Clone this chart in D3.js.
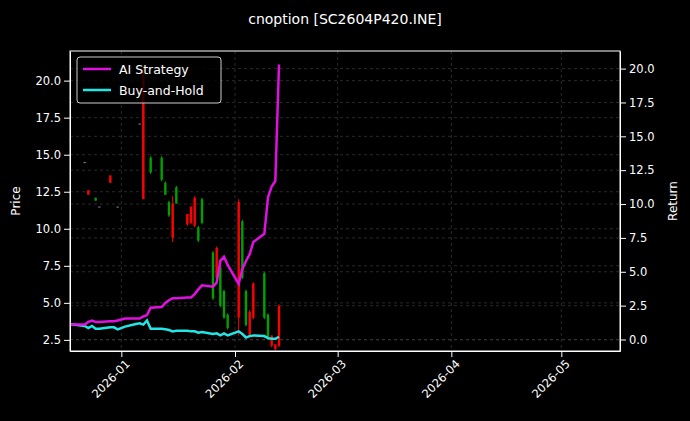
<!DOCTYPE html>
<html><head><meta charset="utf-8">
<script src="https://cdn.jsdelivr.net/npm/d3@7"></script>
<style>body{margin:0;background:#000}text{font-family:"DejaVu Sans",sans-serif}</style>
</head><body><div id="chart"></div>
<script>
const dates = ['2025-12-18','2025-12-19','2025-12-22','2025-12-23','2025-12-24','2025-12-25','2025-12-26','2025-12-29','2025-12-30','2025-12-31',
  '2026-01-02','2026-01-05','2026-01-06','2026-01-07','2026-01-08','2026-01-09','2026-01-12','2026-01-13','2026-01-14','2026-01-15','2026-01-16',
  '2026-01-19','2026-01-20','2026-01-21','2026-01-22','2026-01-23','2026-01-26','2026-01-27','2026-01-28','2026-01-29','2026-01-30',
  '2026-02-02','2026-02-03','2026-02-04','2026-02-05','2026-02-06','2026-02-09','2026-02-10','2026-02-11','2026-02-12','2026-02-13']
// open, high, low, close (null = no trade)
const opens  = [null,null,14.5,12.6,null,11.9,11.5,13.6,null,11.5, null,null,17.1,20.6,null,13.8,13.3,12.3,10.9,11.7,11.7, 11.0,11.5,12.1,9.2,10.4,5.3,8.7,4.8,4.0,3.3, 11.8,6.7,3.5,4.4,6.3, 4.0,2.6,2.8,2.2,4.8]
const highs  = [null,null,14.5,12.6,null,12.1,11.5,13.6,null,11.5, null,null,17.1,21.0,null,14.9,14.9,13.2,11.9,12.2,12.9, 11.0,11.5,12.2,10.2,12.1,8.5,8.8,7.5,5.9,4.3, 12.0,10.6,5.9,4.5,6.4, 7.1,4.3,2.8,2.2,4.9]
const lows   = [null,null,14.5,12.3,null,11.9,11.5,13.1,null,11.5, null,null,17.1,12.0,null,13.7,13.2,12.3,10.8,9.1,11.7, 10.2,10.3,10.1,9.1,10.3,5.2,6.6,4.7,3.9,3.2, 2.8,6.6,3.4,2.7,3.9, 3.9,2.5,2.0,1.8,2.0]
const closes = [null,null,14.5,12.3,null,12.1,11.5,13.1,null,11.5, null,null,17.1,12.0,null,14.8,14.8,13.1,11.8,9.4,12.8, 10.3,10.4,10.2,10.1,12.0,8.4,6.7,7.4,5.8,4.2, 4.0,10.5,5.8,2.8,4.0, 7.0,4.2,2.1,1.9,2.1]
const aiReturn = [1.1,1.1,1.1,1.3,1.4,1.3,1.3,1.35,1.35,1.4, 1.55,1.55,1.55,1.7,1.8,2.35,2.4,2.7,2.9,3.05,3.05, 3.1,3.1,3.35,3.7,4.0,3.9,4.2,5.8,6.1,5.5, 4.1,5.2,5.8,6.3,7.2, 7.8,10.5,11.3,11.7,20.3]
const bhReturn = [1.1,1.1,1.0,0.85,1.0,0.8,0.8,0.9,0.9,0.75, 0.95,1.15,1.2,1.1,1.4,0.8,0.8,0.75,0.7,0.6,0.65, 0.65,0.6,0.6,0.5,0.55,0.4,0.45,0.3,0.45,0.3, 0.6,0.4,0.15,0.25,0.3, 0.25,0.1,0.05,0.05,0.2]
const priceTicks = [2.5,5.0,7.5,10.0,12.5,15.0,17.5,20.0]
const returnTicks = [0.0,2.5,5.0,7.5,10.0,12.5,15.0,17.5,20.0]
const monthTicks = ['2026-01-01','2026-02-01','2026-03-01','2026-04-01','2026-05-01']

const W = 690, H = 421, m = {top: 51, right: 70, bottom: 70, left: 70}
const parse = d3.utcParse('%Y-%m-%d')
const svg = d3.select('#chart').append('svg').attr('width', W).attr('height', H).style('background', '#000')
const x = d3.scaleUtc().domain([parse('2025-12-18'), parse('2026-05-17')]).range([m.left, W - m.right])
const yP = d3.scaleLinear().domain([1.75, 22.0]).range([H - m.bottom, m.top])
const yR = d3.scaleLinear().domain([-0.85, 21.3]).range([H - m.bottom, m.top])

svg.append('text').attr('x', 345).attr('y', 24).attr('text-anchor', 'middle').attr('fill', '#fff')
  .style('font-size', '14px').text('cnoption [SC2604P420.INE]')

// grid
const grid = svg.append('g').attr('stroke', '#444').attr('stroke-width', 0.6).attr('stroke-dasharray', '3,3')
grid.selectAll('.gx').data(monthTicks).enter().append('line')
  .attr('x1', d => x(parse(d))).attr('x2', d => x(parse(d))).attr('y1', m.top).attr('y2', H - m.bottom)
grid.selectAll('.gp').data(priceTicks).enter().append('line')
  .attr('x1', m.left).attr('x2', W - m.right).attr('y1', d => yP(d)).attr('y2', d => yP(d))
grid.selectAll('.gr').data(returnTicks).enter().append('line')
  .attr('x1', m.left).attr('x2', W - m.right).attr('y1', d => yR(d)).attr('y2', d => yR(d))

// candles
const candles = dates.map((d, i) => ({t: parse(d), o: opens[i], h: highs[i], l: lows[i], c: closes[i]})).filter(d => d.o != null)
const col = d => d.c < d.o ? '#ff0000' : (d.c > d.o ? '#00a000' : '#888')
const cg = svg.append('g')
cg.selectAll('.wick').data(candles).enter().append('line')
  .attr('x1', d => x(d.t)).attr('x2', d => x(d.t)).attr('y1', d => yP(d.h)).attr('y2', d => yP(d.l))
  .attr('stroke', col).attr('stroke-width', 1)
cg.selectAll('.body').data(candles).enter().append('rect')
  .attr('x', d => x(d.t) - 1.2).attr('width', 2.4)
  .attr('y', d => yP(Math.max(d.o, d.c))).attr('height', d => Math.max(1, Math.abs(yP(d.o) - yP(d.c))))
  .attr('fill', col)

// return lines
const line = v => d3.line().x((d, i) => x(parse(dates[i]))).y(d => yR(d))(v)
svg.append('path').attr('d', line(bhReturn)).attr('fill', 'none').attr('stroke', '#22e5e5').attr('stroke-width', 2.5)
svg.append('path').attr('d', line(aiReturn)).attr('fill', 'none').attr('stroke', '#e010e0').attr('stroke-width', 2.5)

// axes
const styleAxis = g => {
  g.selectAll('path,line').attr('stroke', '#fff')
  g.selectAll('text').attr('fill', '#fff').style('font-size', '11.5px').style('font-family', 'DejaVu Sans')
}
svg.append('g').attr('transform', `translate(0,${H - m.bottom})`)
  .call(d3.axisBottom(x).tickValues(monthTicks.map(parse)).tickFormat(d3.utcFormat('%Y-%m')).tickSizeOuter(0))
  .call(styleAxis)
  .selectAll('text').attr('text-anchor', 'end').attr('dx', '-0.3em').attr('dy', '0.6em').attr('transform', 'rotate(-45)')
svg.append('g').attr('transform', `translate(${m.left},0)`)
  .call(d3.axisLeft(yP).tickValues(priceTicks).tickFormat(d3.format('.1f')).tickSizeOuter(0)).call(styleAxis)
svg.append('g').attr('transform', `translate(${W - m.right},0)`)
  .call(d3.axisRight(yR).tickValues(returnTicks).tickFormat(d3.format('.1f')).tickSizeOuter(0)).call(styleAxis)
svg.append('rect').attr('x', m.left).attr('y', m.top).attr('width', W - m.left - m.right).attr('height', H - m.top - m.bottom)
  .attr('fill', 'none').attr('stroke', '#fff')

svg.append('text').attr('transform', `translate(20,${(m.top + H - m.bottom) / 2}) rotate(-90)`)
  .attr('text-anchor', 'middle').attr('fill', '#fff').style('font-size', '12px').text('Price')
svg.append('text').attr('transform', `translate(677,${(m.top + H - m.bottom) / 2}) rotate(-90)`)
  .attr('text-anchor', 'middle').attr('fill', '#fff').style('font-size', '12px').text('Return')

// legend
const lg = svg.append('g').attr('transform', 'translate(77,57)')
lg.append('rect').attr('width', 144).attr('height', 46).attr('rx', 3).attr('fill', '#000').attr('fill-opacity', 0.8).attr('stroke', '#ccc')
const items = [['AI Strategy', '#e010e0'], ['Buy-and-Hold', '#22e5e5']]
items.forEach(([name, c], i) => {
  lg.append('line').attr('x1', 6).attr('x2', 34).attr('y1', 12 + i * 21).attr('y2', 12 + i * 21).attr('stroke', c).attr('stroke-width', 2.5)
  lg.append('text').attr('x', 42).attr('y', 17 + i * 21).attr('fill', '#fff').style('font-size', '12.5px').text(name)
})
</script></body></html>
